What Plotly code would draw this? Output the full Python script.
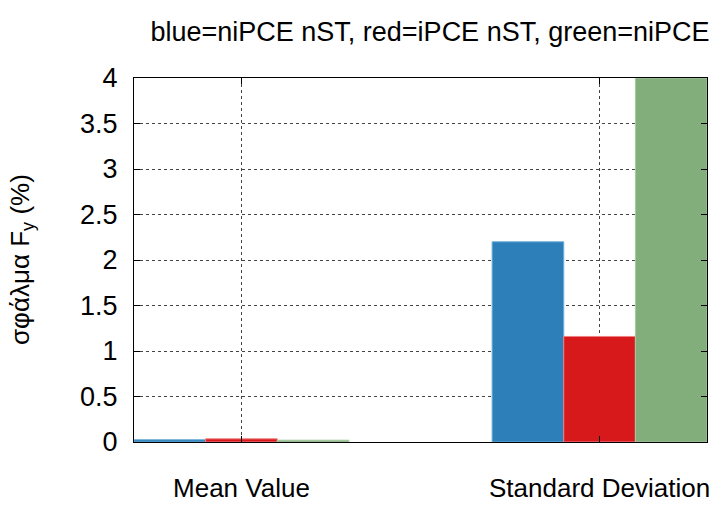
import plotly.graph_objects as go

categories = ["Mean Value", "Standard Deviation"]
series_names = ["niPCE nST", "iPCE nST", "niPCE"]
blue_vals = [0.025, 2.20]
red_vals = [0.035, 1.16]
green_vals = [0.02, 4.0]
y_ticks = [0, 0.5, 1, 1.5, 2, 2.5, 3, 3.5, 4]
y_tick_text = ["0", "0.5", "1", "1.5", "2", "2.5", "3", "3.5", "4"]

colors = ["#2c7fb8", "#d7191c", "#82ae7c"]
edge_colors = ["#6baed6", "#f08080", "#a8c8a4"]

fig = go.Figure()
for name, vals, c, ec in zip(series_names, [blue_vals, red_vals, green_vals], colors, edge_colors):
    fig.add_trace(go.Bar(x=categories, y=vals, name=name, marker=dict(color=c, line=dict(color=ec, width=1))))

font = "Liberation Sans, Arial, sans-serif"
L, R, T, B = 134, 11, 78, 63
fig.update_layout(
    width=718, height=505,
    margin=dict(l=L, r=R, t=T, b=B, autoexpand=False),
    paper_bgcolor="white", plot_bgcolor="white",
    barmode="group", bargap=0.4, bargroupgap=0,
    showlegend=False,
    font=dict(family=font, color="black", size=27),
    title=dict(text="blue=niPCE nST, red=iPCE nST, green=niPCE", x=430/718, xanchor="center",
               xref="container", y=1 - 32/505, yanchor="middle", yref="container",
               font=dict(size=27, family=font, color="black")),
)
fig.add_annotation(
    text="σφάλμα F<sub>y</sub> (%)", textangle=-90,
    xref="paper", yref="paper", x=(21 - L) / (718 - L - R), y=0.5,
    xanchor="center", yanchor="middle", showarrow=False,
    font=dict(size=26, family=font, color="black"),
)
fig.update_xaxes(
    type="category", range=[-0.3, 1.3], automargin=False,
    showline=True, linecolor="black", linewidth=1, mirror="ticks",
    ticks="inside", ticklen=6, tickcolor="black",
    showgrid=True, gridcolor="#444", griddash="dot", gridwidth=1,
    tickfont=dict(size=26, family=font), ticklabelstandoff=23,
)
fig.update_yaxes(
    range=[0, 4], tickvals=y_ticks, ticktext=y_tick_text, automargin=False,
    showline=True, linecolor="black", linewidth=1, mirror="ticks",
    ticks="inside", ticklen=6, tickcolor="black",
    showgrid=True, gridcolor="#444", griddash="dot", gridwidth=1,
    zeroline=False,
    tickfont=dict(size=27, family=font), ticklabelstandoff=10,
)
fig.write_html("out.html")
